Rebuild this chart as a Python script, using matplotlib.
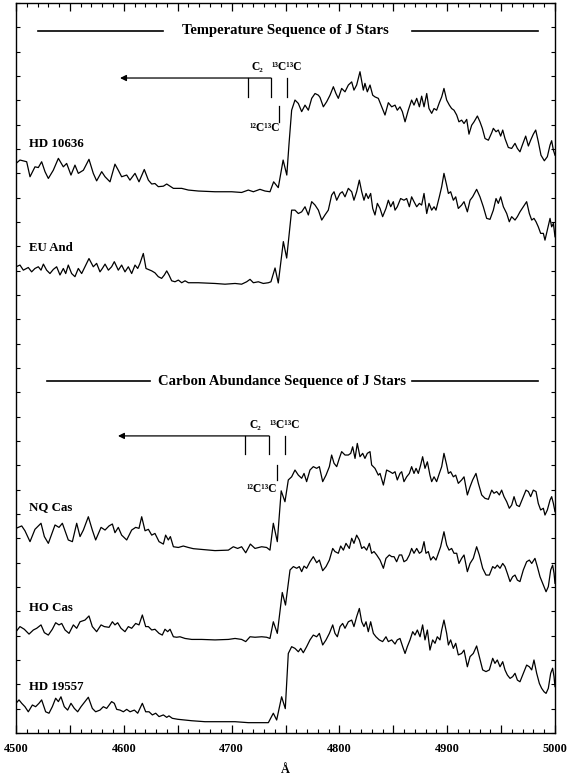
import matplotlib
matplotlib.use("Agg")
import matplotlib.pyplot as plt
from matplotlib.ticker import MultipleLocator, FuncFormatter
import numpy as np

plt.rcParams['font.family'] = ['Liberation Serif', 'DejaVu Serif']

# ---------------- data (wavelength in Angstrom, flux incl. vertical offset) --------
hd10636_wl = [4500.0, 4503.7, 4509.9, 4513.0, 4517.6, 4520.7, 4523.8, 4526.9, 4530.0, 4534.6,
              4539.3, 4543.9, 4547.0, 4551.0, 4554.7, 4557.8, 4562.5, 4567.7, 4571.7, 4574.8,
              4579.5, 4582.6, 4587.2, 4591.8, 4594.9, 4598.0, 4602.7, 4605.7, 4610.4, 4614.1,
              4619.0, 4622.8, 4625.9, 4628.9, 4632.0, 4636.7, 4639.8, 4642.9, 4646.0, 4653.7,
              4659.9, 4669.1, 4684.6, 4700.1, 4709.3, 4715.5, 4720.2, 4726.3, 4731.0, 4735.6,
              4739.0, 4743.3, 4747.8, 4751.2, 4753.3, 4755.7,
              4758.8, 4761.9, 4765.0, 4768.1, 4771.2, 4774.3, 4777.4, 4780.5, 4782.0, 4785.1,
              4788.2, 4791.3, 4794.4, 4796.8, 4799.0, 4802.1, 4805.2, 4808.3, 4811.4, 4813.5,
              4816.0, 4819.1, 4822.2, 4823.7, 4825.9, 4828.4, 4830.9, 4833.0, 4836.1, 4839.2,
              4842.3, 4845.4, 4848.5, 4851.6, 4853.7, 4856.2, 4858.4, 4860.9, 4863.9, 4867.0,
              4869.2, 4871.7, 4874.2, 4876.3, 4878.5, 4881.0, 4883.1, 4885.6, 4887.8, 4890.2,
              4892.7, 4894.9, 4897.0, 4899.5, 4902.0, 4904.1, 4906.3, 4908.8, 4910.9, 4913.4,
              4915.6, 4918.1, 4920.2, 4922.7, 4924.9, 4928.0, 4930.4, 4932.6, 4935.1, 4938.2,
              4941.3, 4942.8, 4945.3, 4947.4, 4949.6, 4951.5, 4953.6, 4956.7, 4959.8, 4962.9,
              4965.1, 4967.5, 4969.7, 4972.8, 4975.3, 4977.4, 4979.9, 4982.1, 4984.5, 4987.0,
              4990.1, 4992.9, 4995.4, 4996.9, 4998.5, 5000.0]
hd10636_flux = [23.33, 23.47, 23.40, 22.78, 23.19, 23.16, 23.40, 22.99, 22.71, 23.05,
                23.54, 23.19, 23.33, 22.85, 23.26, 22.92, 23.05, 23.50, 22.92, 22.61,
                22.99, 22.78, 22.57, 23.30, 23.05, 22.78, 22.85, 22.64, 22.92, 22.57,
                23.08, 22.64, 22.48, 22.50, 22.37, 22.39, 22.48, 22.39, 22.30, 22.30,
                22.23, 22.19, 22.16, 22.16, 22.13, 22.23, 22.16, 22.26, 22.19, 22.16,
                22.57, 22.33, 23.47, 22.85, 24.16, 25.53,
                25.95, 25.81, 25.47, 25.74, 25.53, 26.02, 26.22, 26.15, 26.06, 25.67,
                25.88, 26.15, 26.50, 26.22, 26.02, 26.43, 26.29, 26.57, 26.70, 26.36,
                26.57, 27.12, 26.36, 26.64, 26.29, 26.57, 26.15, 26.08, 26.02, 25.67,
                25.33, 25.84, 25.67, 25.74, 25.53, 25.67, 25.47, 25.05, 25.53, 25.95,
                25.74, 26.02, 25.67, 26.11, 25.67, 26.22, 25.60, 25.40, 25.60, 25.53,
                25.84, 26.08, 26.43, 25.95, 25.74, 25.60, 25.53, 25.33, 25.05, 25.12,
                24.98, 25.15, 24.54, 24.91, 25.05, 25.29, 25.05, 24.78, 24.36, 24.29,
                24.60, 24.78, 24.64, 24.71, 24.46, 24.71, 24.36, 23.99, 23.95, 24.16,
                23.95, 23.81, 24.09, 24.46, 24.05, 24.29, 24.54, 24.71, 24.23, 23.67,
                23.44, 23.61, 24.09, 24.27, 23.88, 23.67]

euand_wl = [4500.0, 4503.7, 4506.8, 4511.4, 4514.5, 4517.6, 4520.7, 4523.2, 4525.4, 4528.4,
            4531.5, 4534.6, 4537.7, 4540.8, 4543.9, 4546.1, 4548.5, 4551.6, 4554.7, 4557.8,
            4560.9, 4564.0, 4567.7, 4571.7, 4574.8, 4577.9, 4580.1, 4582.6, 4585.7, 4588.7,
            4591.2, 4594.9, 4598.0, 4601.1, 4604.2, 4607.3, 4610.4, 4612.9, 4615.0, 4618.1,
            4620.6, 4622.8, 4625.9, 4628.9, 4632.0, 4635.1, 4637.6, 4639.8, 4641.9, 4644.4,
            4647.5, 4650.6, 4653.7, 4656.8, 4659.9, 4669.1, 4684.6, 4693.9, 4703.2, 4709.3,
            4714.0, 4717.1, 4720.2, 4724.8, 4729.4, 4734.1, 4736.5, 4740.3, 4743.3, 4748.0,
            4751.1, 4755.7,
            4758.8, 4761.9, 4765.0, 4768.1, 4771.2, 4774.3, 4777.4, 4780.5, 4783.6, 4786.6,
            4789.7, 4792.8, 4795.0, 4797.5, 4800.6, 4802.7, 4805.2, 4808.3, 4811.4, 4813.5,
            4816.0, 4818.5, 4820.7, 4822.8, 4824.7, 4826.8, 4829.0, 4830.9, 4833.0, 4835.2,
            4837.7, 4840.1, 4843.2, 4845.4, 4847.6, 4850.0, 4851.6, 4853.7, 4856.8, 4859.9,
            4862.4, 4864.9, 4867.0, 4869.2, 4871.7, 4874.2, 4876.3, 4878.5, 4881.0, 4883.1,
            4885.6, 4887.8, 4889.6, 4892.7, 4894.9, 4897.0, 4899.5, 4901.1, 4903.2, 4905.7,
            4907.9, 4910.3, 4913.4, 4915.6, 4918.7, 4921.2, 4923.6, 4927.3, 4930.4, 4933.5,
            4936.6, 4939.7, 4942.8, 4945.3, 4947.4, 4949.6, 4952.1, 4955.2, 4957.6, 4959.8,
            4962.9, 4965.1, 4967.5, 4970.6, 4973.7, 4976.2, 4978.4, 4980.5, 4982.4, 4984.5,
            4986.7, 4989.2, 4990.7, 4992.9, 4995.4, 4996.9, 4998.5, 5000.0]
euand_flux = [19.06, 19.13, 18.92, 19.03, 18.85, 18.99, 19.06, 18.92, 19.17, 18.92,
              18.78, 18.95, 19.06, 18.72, 18.99, 18.78, 19.13, 18.78, 18.65, 18.99,
              18.78, 19.06, 19.40, 19.06, 19.20, 18.85, 18.99, 19.17, 18.92, 19.06,
              19.27, 18.92, 19.13, 18.85, 19.06, 18.78, 19.13, 18.99, 19.20, 19.61,
              18.99, 18.95, 18.89, 18.81, 18.65, 18.58, 18.72, 18.89, 18.72, 18.48,
              18.44, 18.51, 18.40, 18.48, 18.40, 18.40, 18.37, 18.34, 18.37, 18.34,
              18.44, 18.54, 18.40, 18.44, 18.37, 18.40, 18.44, 19.01, 18.39, 20.10,
              19.42, 21.40,
              21.40, 21.26, 21.33, 21.54, 21.20, 21.75, 21.61, 21.40, 20.99, 21.20,
              21.40, 22.02, 22.16, 21.81, 22.09, 22.16, 21.95, 22.30, 22.16, 21.81,
              22.16, 22.64, 22.16, 21.81, 22.09, 21.88, 22.09, 21.47, 21.20, 21.68,
              21.47, 21.13, 21.47, 21.81, 21.54, 21.75, 21.40, 21.54, 21.88, 21.81,
              21.88, 21.54, 21.95, 21.75, 21.54, 21.68, 21.61, 22.09, 21.26, 21.68,
              21.40, 21.54, 21.40, 21.95, 22.37, 22.92, 22.43, 22.09, 22.16, 21.81,
              21.95, 21.47, 21.61, 21.75, 21.33, 21.81, 21.95, 22.26, 21.95, 21.54,
              21.06, 21.02, 21.40, 21.88, 21.68, 21.95, 21.54, 21.26, 20.92, 21.13,
              20.99, 21.13, 21.33, 21.54, 21.75, 21.26, 20.99, 21.06, 20.92, 20.71,
              20.44, 20.44, 20.16, 20.58, 21.06, 20.71, 20.85, 20.30]

nqcas_wl = [4500.0, 4505.3, 4508.3, 4513.0, 4517.6, 4523.2, 4526.3, 4530.0, 4536.2, 4539.9,
            4543.0, 4546.1, 4548.5, 4552.3, 4556.3, 4559.4, 4562.5, 4567.1, 4570.8, 4573.9,
            4578.9, 4582.6, 4586.3, 4589.4, 4591.8, 4594.9, 4598.0, 4602.7, 4607.3, 4611.0,
            4614.1, 4616.6, 4619.7, 4622.8, 4625.9, 4628.9, 4632.7, 4636.7, 4638.8, 4641.3,
            4643.2, 4646.0, 4650.6, 4655.2, 4659.9, 4664.5, 4672.2, 4684.6, 4697.0, 4701.6,
            4705.6, 4709.3, 4713.1, 4717.4, 4721.7, 4727.9, 4732.5, 4735.6, 4738.7, 4742.4,
            4746.0, 4749.5,
            4752.6, 4755.7, 4758.8, 4761.9, 4765.0, 4767.2, 4769.6, 4772.7, 4775.8, 4778.9,
            4781.4, 4784.5, 4787.6, 4790.7, 4792.8, 4795.0, 4797.5, 4799.9, 4802.1, 4805.2,
            4808.3, 4810.5, 4812.3, 4814.5, 4816.6, 4819.1, 4821.6, 4823.7, 4825.9, 4828.4,
            4829.9, 4833.0, 4836.1, 4837.7, 4840.8, 4843.8, 4846.9, 4849.4, 4851.6, 4853.7,
            4856.2, 4857.8, 4859.9, 4862.4, 4864.9, 4867.0, 4869.2, 4871.1, 4873.2, 4875.4,
            4877.2, 4879.4, 4881.6, 4884.0, 4885.6, 4887.8, 4890.2, 4892.7, 4894.9, 4897.0,
            4899.5, 4901.1, 4903.2, 4905.7, 4907.9, 4910.3, 4913.4, 4915.6, 4918.7, 4921.2,
            4923.6, 4926.7, 4928.9, 4932.0, 4935.1, 4938.2, 4941.3, 4943.4, 4945.9, 4948.4,
            4950.5, 4952.7, 4955.2, 4957.6, 4959.8, 4962.0, 4964.4, 4966.9, 4970.0, 4973.1,
            4975.3, 4977.4, 4979.9, 4982.4, 4984.5, 4986.7, 4989.2, 4990.7, 4992.9, 4995.4,
            4996.9, 4998.5, 5000.0]
nqcas_flux = [8.25, 8.35, 8.15, 7.70, 8.21, 8.46, 7.91, 7.63, 8.39, 8.29,
              8.46, 8.07, 7.77, 7.70, 8.46, 7.91, 8.18, 8.73, 8.18, 7.77,
              8.29, 8.18, 8.35, 8.43, 8.07, 8.29, 7.97, 7.77, 8.18, 8.29,
              8.25, 8.73, 8.15, 8.21, 7.97, 8.04, 7.70, 7.60, 7.97, 7.77,
              7.91, 7.49, 7.46, 7.52, 7.46, 7.41, 7.38, 7.33, 7.35, 7.49,
              7.42, 7.49, 7.24, 7.60, 7.42, 7.49, 7.46, 7.35, 8.46, 7.70,
              9.80, 9.35,
              10.25, 10.38, 10.66, 10.45, 10.32, 10.52, 10.18, 10.66, 10.80, 10.73,
              10.80, 10.18, 10.45, 10.80, 11.28, 10.94, 10.80, 11.14, 11.42, 11.28,
              11.28, 11.35, 11.62, 11.14, 11.76, 11.21, 11.35, 11.14, 11.35, 11.42,
              10.87, 10.73, 10.45, 10.52, 10.04, 10.66, 10.59, 10.52, 10.59, 10.25,
              10.52, 10.59, 10.18, 10.38, 10.52, 10.80, 10.52, 10.73, 10.52, 10.87,
              11.21, 10.73, 11.00, 10.45, 10.18, 10.38, 10.18, 10.52, 10.80, 11.35,
              10.87, 10.52, 10.59, 10.38, 10.45, 10.11, 10.25, 10.38, 9.63, 9.97,
              10.25, 10.52, 10.11, 9.63, 9.49, 9.45, 9.83, 9.70, 9.77, 9.63,
              9.83, 9.56, 9.35, 9.08, 9.21, 9.56, 9.21, 9.15, 9.49, 9.83,
              9.77, 9.56, 9.83, 9.77, 9.28, 9.01, 9.08, 8.80, 9.01, 9.42,
              9.56, 9.28, 8.94]

hocas_wl = [4500.0, 4503.7, 4507.7, 4512.1, 4516.1, 4519.2, 4523.2, 4526.3, 4530.0, 4533.7,
            4536.8, 4539.9, 4542.4, 4545.5, 4549.2, 4553.2, 4556.3, 4559.4, 4564.0, 4567.7,
            4570.8, 4574.8, 4578.9, 4581.9, 4586.3, 4589.4, 4591.8, 4594.3, 4597.4, 4601.1,
            4604.2, 4607.3, 4611.0, 4614.1, 4617.2, 4620.3, 4622.8, 4625.9, 4628.9, 4632.7,
            4635.7, 4638.2, 4640.7, 4642.9, 4646.0, 4649.0, 4652.1, 4656.8, 4663.0, 4672.2,
            4684.6, 4697.0, 4703.2, 4709.3, 4713.1, 4717.1, 4721.7, 4727.9, 4732.5, 4735.6,
            4738.7, 4742.4, 4747.0, 4750.0,
            4754.2, 4757.3, 4760.4, 4762.8, 4765.0, 4767.2, 4769.6, 4772.7, 4775.8, 4778.9,
            4781.4, 4784.5, 4787.6, 4790.7, 4793.8, 4795.9, 4799.0, 4801.2, 4803.7, 4806.1,
            4809.2, 4811.4, 4813.5, 4816.0, 4818.5, 4820.7, 4822.8, 4825.3, 4827.8, 4829.9,
            4832.1, 4834.6, 4837.7, 4840.8, 4843.2, 4846.3, 4848.5, 4850.7, 4853.1, 4855.6,
            4857.8, 4859.9, 4862.4, 4864.9, 4867.0, 4869.2, 4871.7, 4874.2, 4876.3, 4878.5,
            4880.3, 4882.5, 4884.7, 4887.1, 4889.6, 4891.8, 4893.9, 4897.0, 4899.5, 4901.7,
            4904.1, 4906.3, 4908.8, 4910.9, 4913.4, 4915.6, 4918.7, 4921.2, 4924.2, 4927.3,
            4929.8, 4932.9, 4936.0, 4939.1, 4942.2, 4944.3, 4946.5, 4949.0, 4951.5, 4953.6,
            4955.8, 4958.3, 4960.7, 4962.9, 4965.1, 4967.5, 4970.6, 4973.7, 4976.2, 4978.4,
            4981.4, 4983.6, 4986.1, 4989.2, 4991.7, 4993.8, 4996.0, 4997.8, 4999.1, 5000.0]
hocas_flux = [3.98, 4.19, 4.08, 3.88, 4.05, 4.12, 4.26, 3.94, 3.84, 4.08,
              4.35, 4.26, 4.32, 4.05, 3.91, 4.26, 4.12, 4.39, 4.46, 4.63,
              4.19, 3.98, 4.26, 4.19, 4.16, 4.39, 4.26, 4.35, 4.12, 3.98,
              4.19, 4.12, 4.32, 4.26, 4.67, 4.19, 4.19, 4.05, 4.08, 3.91,
              3.84, 4.08, 3.98, 4.08, 3.77, 3.75, 3.77, 3.70, 3.66, 3.66,
              3.64, 3.66, 3.70, 3.66, 3.57, 3.77, 3.75, 3.77, 3.75, 3.70,
              4.39, 3.91, 5.60, 5.08,
              6.53, 6.67, 6.60, 6.67, 6.46, 6.69, 6.60, 6.87, 7.08, 6.83,
              6.94, 6.50, 6.67, 6.94, 7.42, 7.29, 7.22, 7.52, 7.35, 7.63,
              7.42, 7.84, 7.63, 7.97, 7.77, 7.42, 7.49, 7.35, 7.63, 7.22,
              7.29, 7.15, 6.94, 6.60, 7.01, 7.15, 7.08, 7.08, 6.87, 7.15,
              7.15, 6.87, 6.94, 7.15, 7.42, 7.22, 7.42, 7.22, 7.29, 7.70,
              7.22, 7.29, 6.94, 7.08, 6.94, 7.22, 7.49, 8.11, 7.56, 7.35,
              7.42, 7.22, 7.22, 6.80, 7.01, 7.15, 6.46, 6.80, 7.01, 7.49,
              7.15, 6.60, 6.32, 6.32, 6.67, 6.60, 6.73, 6.60, 6.80, 6.67,
              6.39, 6.05, 6.25, 6.32, 6.11, 6.05, 6.53, 6.87, 6.94, 6.80,
              7.01, 6.67, 6.25, 5.91, 5.63, 5.84, 6.53, 6.73, 6.39, 5.98]

hd19557_wl = [4500.0, 4502.8, 4505.3, 4508.3, 4511.4, 4515.2, 4518.2, 4521.3, 4523.8, 4527.5,
              4530.6, 4533.7, 4536.8, 4539.3, 4541.7, 4544.8, 4547.9, 4551.0, 4554.1, 4557.2,
              4560.3, 4564.0, 4567.1, 4570.8, 4573.9, 4577.9, 4581.0, 4584.1, 4588.7, 4591.2,
              4593.4, 4596.5, 4599.6, 4602.7, 4605.8, 4609.8, 4612.9, 4617.2, 4620.3, 4623.4,
              4626.5, 4629.6, 4632.7, 4636.7, 4639.8, 4641.9, 4645.0, 4650.0, 4656.8, 4663.0,
              4675.3, 4690.8, 4703.2, 4715.5, 4727.9, 4734.1, 4738.7, 4741.8, 4746.4, 4749.8,
              4752.6, 4755.7, 4758.8, 4761.9, 4764.1, 4766.5, 4769.6, 4772.7, 4775.8, 4778.9,
              4781.4, 4784.5, 4787.6, 4790.7, 4793.8, 4795.9, 4798.1, 4800.6, 4803.0, 4805.2,
              4808.3, 4811.4, 4813.5, 4816.0, 4818.5, 4820.7, 4822.8, 4824.7, 4826.8, 4829.0,
              4831.5, 4833.9, 4837.0, 4840.1, 4843.2, 4845.4, 4848.5, 4851.6, 4853.7, 4856.2,
              4858.7, 4860.9, 4863.0, 4865.5, 4868.0, 4870.1, 4872.3, 4874.8, 4877.2, 4879.4,
              4881.6, 4884.0, 4886.5, 4888.7, 4890.8, 4893.3, 4894.9, 4897.0, 4899.5, 4901.1,
              4903.2, 4905.7, 4907.9, 4910.3, 4913.4, 4915.6, 4918.7, 4921.2, 4924.2, 4927.3,
              4929.8, 4932.9, 4936.0, 4939.1, 4942.2, 4944.3, 4946.5, 4949.0, 4951.5, 4953.6,
              4955.8, 4958.3, 4960.7, 4962.9, 4965.1, 4967.5, 4970.6, 4973.7, 4976.2, 4978.4,
              4980.5, 4983.0, 4985.5, 4987.6, 4989.8, 4991.7, 4993.8, 4996.0, 4997.8, 4999.1,
              5000.0]
hd19557_flux = [1.02, 1.16, 1.02, 0.88, 0.67, 0.95, 0.88, 1.02, 1.16, 0.67,
                0.61, 0.88, 1.23, 1.09, 1.29, 0.88, 0.74, 1.02, 0.81, 0.67,
                0.88, 1.09, 1.27, 0.81, 0.67, 0.74, 0.88, 0.81, 1.09, 1.02,
                0.77, 0.74, 0.67, 0.77, 0.67, 0.74, 0.61, 1.02, 0.67, 0.67,
                0.54, 0.61, 0.47, 0.54, 0.44, 0.50, 0.40, 0.36, 0.33, 0.30,
                0.26, 0.26, 0.26, 0.22, 0.22, 0.22, 0.61, 0.33, 1.29, 0.80,
                3.08, 3.36, 3.29, 3.15, 3.29, 3.11, 3.36, 3.64, 3.84, 3.77,
                3.91, 3.43, 3.64, 3.91, 4.26, 3.91, 3.77, 4.19, 4.32, 4.12,
                4.39, 4.46, 4.19, 4.60, 4.94, 4.39, 4.19, 4.39, 3.98, 4.39,
                3.91, 3.77, 3.64, 3.57, 3.77, 3.57, 3.64, 3.47, 3.64, 3.70,
                3.36, 3.08, 3.36, 3.64, 3.98, 3.84, 4.05, 3.77, 4.26, 3.64,
                4.05, 3.22, 3.64, 3.50, 3.77, 3.64, 4.05, 4.46, 3.91, 3.43,
                3.64, 3.29, 3.50, 3.02, 3.08, 3.22, 2.53, 2.95, 3.08, 3.39,
                2.95, 2.40, 2.33, 2.40, 2.88, 2.67, 2.81, 2.53, 2.74, 2.40,
                2.19, 2.05, 2.12, 2.26, 1.98, 1.91, 2.26, 2.60, 2.53, 2.40,
                2.81, 2.26, 1.84, 1.64, 1.50, 1.43, 1.64, 2.26, 2.47, 2.12,
                1.71]

star_names = ["HD 10636", "EU And", "NQ Cas", "HO Cas", "HD 19557"]
star_label_y = [24.13, 19.83, 9.13, 4.96, 1.69]
section_titles = ["Temperature Sequence of J Stars", "Carbon Abundance Sequence of J Stars"]

# band heads (Angstrom) for the two sections
c2_heads = [[4715.2, 4736.5], [4712.4, 4734.7]]
c13c13_head = [4751.4, 4749.5]
c12c13_head = [4744.0, 4742.0]
arrow_tip = [4596.5, 4594.6]

# ---------------- figure ----------------
fig = plt.figure(figsize=(5.7, 7.75), dpi=100)
ax = fig.add_axes([16/570, 42/775, 539/570, 730/775])

spectra = [(hd10636_wl, hd10636_flux), (euand_wl, euand_flux), (nqcas_wl, nqcas_flux),
           (hocas_wl, hocas_flux), (hd19557_wl, hd19557_flux)]
for wl, fl in spectra:
    ax.plot(wl, fl, color='black', lw=0.9, solid_joinstyle='round')

ylo, yhi = -0.207, 29.96
ax.set_xlim(4500, 5000)
ax.set_ylim(ylo, yhi)

# star labels
for name, yy in zip(star_names, star_label_y):
    ax.text(4512.5, yy, name, ha='left', va='center', fontsize=9.3, fontweight='bold')

# section titles with rules
title_y = [28.82, 14.32]
title_x = [4749.5, 4747.0]
left_rules = [(4520.0, 4636.4), (4528.8, 4624.3)]
right_rules = [(4867.3, 4984.2), (4867.3, 4984.2)]
for t, ty, tx, lr, rr in zip(section_titles, title_y, title_x, left_rules, right_rules):
    ax.text(tx, ty, t, ha='center', va='center', fontsize=10.5, fontweight='bold')
    ax.plot(lr, [ty, ty], color='black', lw=1.2)
    ax.plot(rr, [ty, ty], color='black', lw=1.2)

# band-head annotations
bar_y = [26.86, 12.07]
tick_bot = [26.07, 11.32]
c12_span = [(25.70, 25.04), (10.87, 10.25)]
label_top_y = [27.33, 12.54]
label_bot_y = [24.79, 9.88]
for i in range(2):
    h1, h2 = c2_heads[i]
    ax.annotate('', xy=(arrow_tip[i], bar_y[i]), xytext=(h2, bar_y[i]),
                arrowprops=dict(arrowstyle='-|>', color='black', lw=0.9,
                                mutation_scale=9, shrinkA=0, shrinkB=0))
    ax.plot([h1, h1], [bar_y[i], tick_bot[i]], color='black', lw=0.9)
    ax.plot([h2, h2], [bar_y[i], tick_bot[i]], color='black', lw=0.9)
    ax.plot([c13c13_head[i]] * 2, [bar_y[i], tick_bot[i]], color='black', lw=0.9)
    ax.plot([c12c13_head[i]] * 2, list(c12_span[i]), color='black', lw=0.9)
    ax.text((h1 + h2) / 2 - 1.5, label_top_y[i], 'C\u2082', ha='center', va='center',
            fontsize=8.3, fontweight='bold')
    ax.text(c13c13_head[i], label_top_y[i], '\u00b9\u00b3C\u00b9\u00b3C', ha='center',
            va='center', fontsize=8.3, fontweight='bold')
    ax.text(c12c13_head[i] + 0.5, label_bot_y[i], '\u00b9\u00b2C\u00b9\u00b3C', ha='right',
            va='center', fontsize=8.3, fontweight='bold')

# ticks
ax.xaxis.set_major_locator(MultipleLocator(50))
ax.xaxis.set_minor_locator(MultipleLocator(10))
ax.xaxis.set_major_formatter(FuncFormatter(lambda v, p: f"{int(round(v))}" if round(v) % 100 == 0 else ""))
ax.set_yticks(np.linspace(ylo, yhi, 31))
ax.yaxis.set_major_formatter(FuncFormatter(lambda v, p: ""))
ax.tick_params(axis='x', which='major', direction='in', length=6, width=0.9, top=True,
               bottom=True, pad=7, labelsize=8.8)
ax.tick_params(axis='x', which='minor', direction='in', length=3.2, width=0.8, top=True, bottom=True)
ax.tick_params(axis='y', which='major', direction='in', length=3.2, width=0.8, left=True,
               right=True)
for lab in ax.get_xticklabels():
    lab.set_fontweight('bold')
for sp in ax.spines.values():
    sp.set_linewidth(1.0)

ax.set_xlabel('\u00c5', fontsize=9, fontweight='bold', labelpad=7)

fig.savefig('out.png', dpi=100)
